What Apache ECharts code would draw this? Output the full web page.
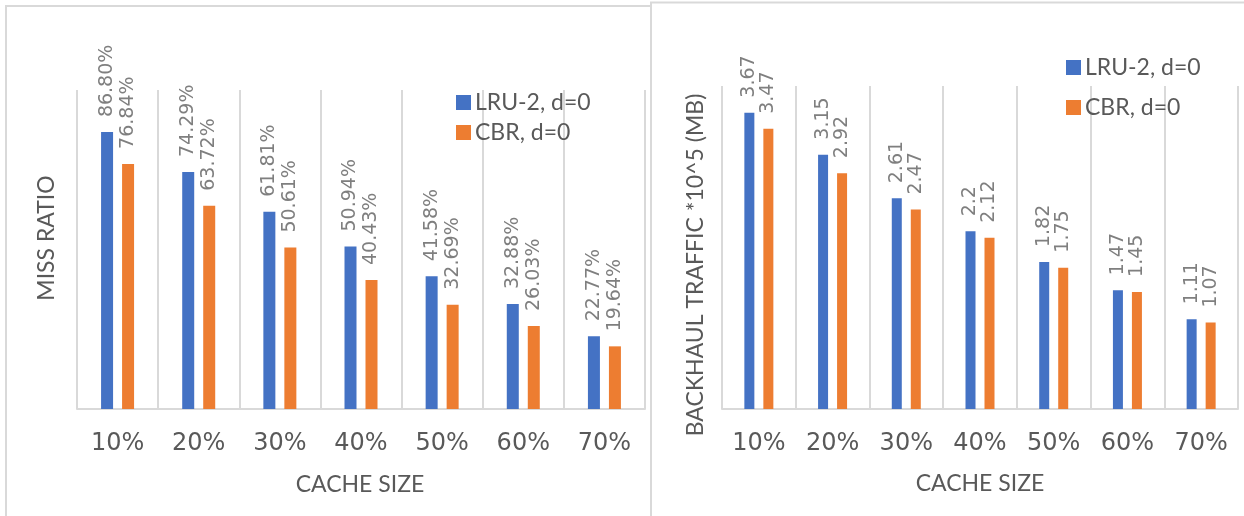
<!DOCTYPE html>
<html>
<head>
<meta charset="utf-8">
<script src="https://cdn.jsdelivr.net/npm/echarts@6/dist/echarts.min.js"></script>
<style>
  html, body { margin: 0; padding: 0; background: #ffffff; }
  #chart { width: 1244px; height: 516px; }
</style>
</head>
<body>
<div id="chart"></div>
<script>
// Cache sizes shared by both panels
const cacheSizes = ['10%', '20%', '30%', '40%', '50%', '60%', '70%'];

// Miss ratio (%) per cache size
const missLRU2 = [86.80, 74.29, 61.81, 50.94, 41.58, 32.88, 22.77];
const missCBR = [76.84, 63.72, 50.61, 40.43, 32.69, 26.03, 19.64];

// Backhaul traffic (x10^5 MB) per cache size
const trafficLRU2 = [3.67, 3.15, 2.61, 2.2, 1.82, 1.47, 1.11];
const trafficCBR = [3.47, 2.92, 2.47, 2.12, 1.75, 1.45, 1.07];

const seriesNames = ['LRU-2, d=0', 'CBR, d=0'];

const BLUE = '#4472C4';
const ORANGE = '#ED7D31';
const GRID_GRAY = '#d9d9d9';
const TEXT_DARK = '#595959';
const TEXT_LIGHT = '#7f7f7f';
const SANS = 'Lato';
const WIDE = 'DejaVu Sans';

const chart = echarts.init(document.getElementById('chart'), null, { renderer: 'canvas' });

function xAxisFor(gridIndex) {
  return {
    type: 'category',
    gridIndex: gridIndex,
    data: cacheSizes,
    axisLine: { lineStyle: { color: GRID_GRAY, width: 2 } },
    axisTick: { show: false },
    axisLabel: { color: TEXT_DARK, fontFamily: WIDE, fontSize: 24, margin: 23 },
    splitLine: { show: true, lineStyle: { color: GRID_GRAY, width: 2 } }
  };
}

function yAxisFor(gridIndex, max) {
  return {
    type: 'value',
    gridIndex: gridIndex,
    min: 0,
    max: max,
    show: false,
    splitLine: { show: false }
  };
}

function labelFor(fmt) {
  return {
    show: true,
    position: 'top',
    rotate: 90,
    align: 'left',
    verticalAlign: 'middle',
    distance: 15,
    color: TEXT_LIGHT,
    fontFamily: WIDE,
    fontSize: 19,
    formatter: fmt
  };
}

const pctFmt = p => p.value.toFixed(2) + '%';
const rawFmt = p => String(p.value);

function barSeries(name, data, color, axisIndex, width, gap, fmt) {
  return {
    name: name,
    type: 'bar',
    xAxisIndex: axisIndex,
    yAxisIndex: axisIndex,
    data: data,
    barWidth: width,
    barGap: gap,
    itemStyle: { color: color },
    label: labelFor(fmt),
    silent: true,
    animation: false
  };
}

function legendFor(left, top, gap) {
  return {
    orient: 'vertical',
    left: left,
    top: top,
    itemWidth: 15,
    itemHeight: 15,
    itemGap: gap,
    icon: 'rect',
    data: seriesNames,
    textStyle: { color: TEXT_DARK, fontFamily: SANS, fontSize: 23, padding: [0, 0, 0, -1] },
    selectedMode: false
  };
}

function titleText(text, x, y, rotation) {
  return {
    type: 'text',
    x: x,
    y: y,
    rotation: rotation,
    silent: true,
    style: {
      text: text,
      fill: TEXT_DARK,
      font: '23px ' + SANS,
      align: 'center',
      verticalAlign: 'middle'
    }
  };
}

const option = {
  backgroundColor: '#ffffff',
  animation: false,
  color: [BLUE, ORANGE],
  grid: [
    { left: 77, right: 599, top: 90, bottom: 107 },
    { left: 722, right: 6, top: 86, bottom: 107 }
  ],
  xAxis: [xAxisFor(0), xAxisFor(1)],
  yAxis: [yAxisFor(0, 100), yAxisFor(1, 4)],
  legend: [legendFor(451, 86, 7), legendFor(1061, 51, 17)],
  series: [
    barSeries(seriesNames[0], missLRU2, BLUE, 0, 12, '75%', pctFmt),
    barSeries(seriesNames[1], missCBR, ORANGE, 0, 12, '75%', pctFmt),
    barSeries(seriesNames[0], trafficLRU2, BLUE, 1, 10, '90%', rawFmt),
    barSeries(seriesNames[1], trafficCBR, ORANGE, 1, 10, '90%', rawFmt)
  ],
  graphic: [
    // panel frames
    {
      type: 'rect', silent: true, z: -1,
      shape: { x: 6, y: 6, width: 645, height: 600 },
      style: { fill: null, stroke: GRID_GRAY, lineWidth: 2 }
    },
    {
      type: 'rect', silent: true, z: -1,
      shape: { x: 651, y: 2.5, width: 700, height: 600 },
      style: { fill: null, stroke: GRID_GRAY, lineWidth: 2 }
    },
    // axis titles
    titleText('CACHE SIZE', 360, 485, 0),
    titleText('CACHE SIZE', 980, 484, 0),
    titleText('MISS RATIO', 47, 238, Math.PI / 2),
    titleText('BACKHAUL TRAFFIC *10^5 (MB)', 696, 265, Math.PI / 2)
  ]
};

chart.setOption(option);
</script>
</body>
</html>
